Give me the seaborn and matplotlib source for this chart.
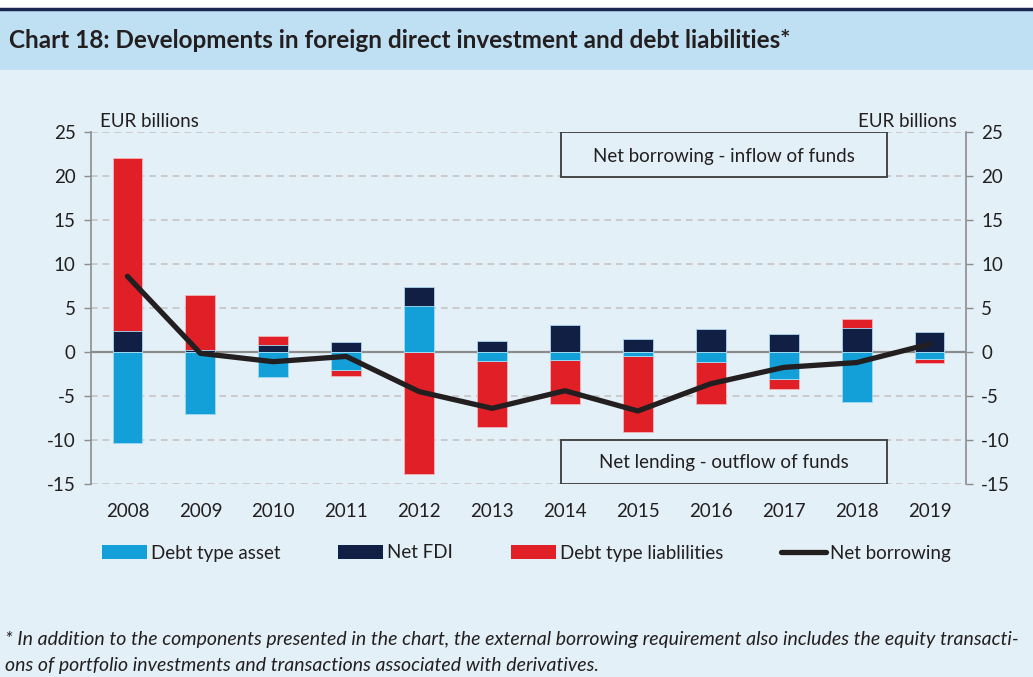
import pandas as pd
import seaborn as sns
import matplotlib.pyplot as plt
from matplotlib.patches import Patch, Rectangle
from matplotlib.lines import Line2D

# Data (EUR billions)
years = ['2008', '2009', '2010', '2011', '2012', '2013',
         '2014', '2015', '2016', '2017', '2018', '2019']
debt_asset = [-10.3, -7.0, -2.8, -2.1, 5.2, -1.0, -0.9, -0.5, -1.1, -3.1, -5.7, -0.8]
net_fdi = [2.4, 0.2, 0.8, 1.1, 2.2, 1.25, 3.1, 1.45, 2.6, 2.0, 2.75, 2.3]
debt_liab = [19.6, 6.3, 1.0, -0.6, -13.9, -7.5, -5.0, -8.6, -4.8, -1.05, 0.95, -0.45]
net_borrowing = [8.6, -0.15, -1.1, -0.5, -4.5, -6.4, -4.4, -6.7, -3.6, -1.75, -1.2, 0.9]

series_names = ['Debt type asset', 'Net FDI', 'Debt type liablilities']
colors = {'Debt type asset': '#139fd8', 'Net FDI': '#111f44',
          'Debt type liablilities': '#e11f26'}
line_color = '#231f20'
bg = '#e3f0f7'
band = '#bee0f2'
text_color = '#231f20'

df = pd.DataFrame({'year': years, 'Debt type asset': debt_asset,
                   'Net FDI': net_fdi, 'Debt type liablilities': debt_liab})

# cumulative tops, positive and negative stacked separately
pos_cum = pd.Series(0.0, index=df.index)
neg_cum = pd.Series(0.0, index=df.index)
tops = {}
for name in series_names:
    v = df[name]
    pos_cum = pos_cum + v.clip(lower=0)
    neg_cum = neg_cum + v.clip(upper=0)
    tops[name] = (pos_cum.copy(), neg_cum.copy())

sns.set_style('white')
plt.rcParams['font.family'] = ['Lato', 'DejaVu Sans']
plt.rcParams['axes.unicode_minus'] = False

fig = plt.figure(figsize=(10.33, 6.77), dpi=100, facecolor=bg)

# title band
fig.patches.append(Rectangle((0, 1 - 70 / 677), 1, 60 / 677, transform=fig.transFigure,
                             facecolor=band, edgecolor='none', zorder=0))
fig.patches.append(Rectangle((0, 1 - 9 / 677), 1, 9 / 677, transform=fig.transFigure,
                             facecolor='white', edgecolor='none', zorder=0))
fig.add_artist(Line2D([0, 1], [1 - 9 / 677, 1 - 9 / 677], transform=fig.transFigure,
                      color='#1b2550', lw=2.5))
fig.text(9 / 1033, 1 - 41 / 677, 'Chart 18: Developments in foreign direct investment and debt liabilities*',
         fontsize=17.5, fontweight='bold', color=text_color, va='center', ha='left')

ax = fig.add_axes([91 / 1033, 1 - 484 / 677, 875 / 1033, 352 / 677])
ax.set_facecolor(bg)

# draw stacked segments back to front so lower segments cover upper ones
for name in reversed(series_names):
    p, n = tops[name]
    for h in (p, n):
        sns.barplot(x=df['year'], y=h, color=colors[name], width=0.41, saturation=1,
                    edgecolor='#f2b5b8' if name == 'Debt type liablilities' else '#a8dcf2',
                    linewidth=0.6, ax=ax, zorder=2)

sns.lineplot(x=list(range(len(years))), y=net_borrowing, color=line_color, lw=3.8,
             ax=ax, zorder=4, solid_capstyle='round')

ax.set_xlim(-0.5, 11.5)
ax.set_ylim(-15, 25)
ax.set_yticks(range(-15, 26, 5))
ax.yaxis.grid(True, linestyle=(0, (4, 3)), color='#c4c4c4', lw=1.2, zorder=0)
ax.set_axisbelow(True)
ax.axhline(0, color='#8c8c8c', lw=1.6, zorder=1)
for s in ['top', 'bottom']:
    ax.spines[s].set_visible(False)
for s in ['left', 'right']:
    ax.spines[s].set_color('#8c8c8c')
    ax.spines[s].set_linewidth(1.2)
ax.tick_params(axis='y', left=True, right=True, labelleft=True, labelright=True,
               length=5, width=1, color='#8c8c8c', labelsize=13.5, labelcolor=text_color, pad=6)
ax.tick_params(axis='x', bottom=False, labelsize=13.5, labelcolor=text_color, pad=10)
ax.set_xlabel('')
ax.set_ylabel('')

ax.text(0.01, 1.005, 'EUR billions', transform=ax.transAxes, fontsize=13.5,
        color=text_color, ha='left', va='bottom')
ax.text(0.989, 1.005, 'EUR billions', transform=ax.transAxes, fontsize=13.5,
        color=text_color, ha='right', va='bottom')

ax.add_patch(Rectangle((5.95, 19.9), 4.47, 5.1, facecolor=bg, edgecolor='#3a3a3a',
                       lw=1.3, zorder=3))
ax.text(8.18, 22.2, 'Net borrowing - inflow of funds', ha='center', va='center',
        fontsize=13.5, color=text_color, zorder=5)
ax.add_patch(Rectangle((5.95, -15), 4.47, 5.0, facecolor=bg, edgecolor='#3a3a3a',
                       lw=1.3, zorder=3))
ax.text(8.18, -12.5, 'Net lending - outflow of funds', ha='center', va='center',
        fontsize=13.5, color=text_color, zorder=5)

handles = [Patch(facecolor=colors[n], edgecolor='none') for n in series_names]
handles.append(Line2D([0], [0], color=line_color, lw=3.8, solid_capstyle='round'))
labels = series_names + ['Net borrowing']
fig.legend(handles, labels, loc='center left', bbox_to_anchor=(85 / 1033, 1 - 553 / 677),
           ncol=4, frameon=False, fontsize=13.5, handlelength=2.4, handleheight=0.8,
           handletextpad=0.2, columnspacing=3.1, labelcolor=text_color)

fig.text(5 / 1033, 1 - 640 / 677,
         '* In addition to the components presented in the chart, the external borrowing '
         'requirement also includes the equity transacti-',
         fontsize=14.0, style='italic', color=text_color, ha='left', va='center')
fig.text(5 / 1033, 1 - 665 / 677,
         'ons of portfolio investments and transactions associated with derivatives.',
         fontsize=14.0, style='italic', color=text_color, ha='left', va='center')

fig.savefig('out.png', dpi=100, facecolor=bg)
